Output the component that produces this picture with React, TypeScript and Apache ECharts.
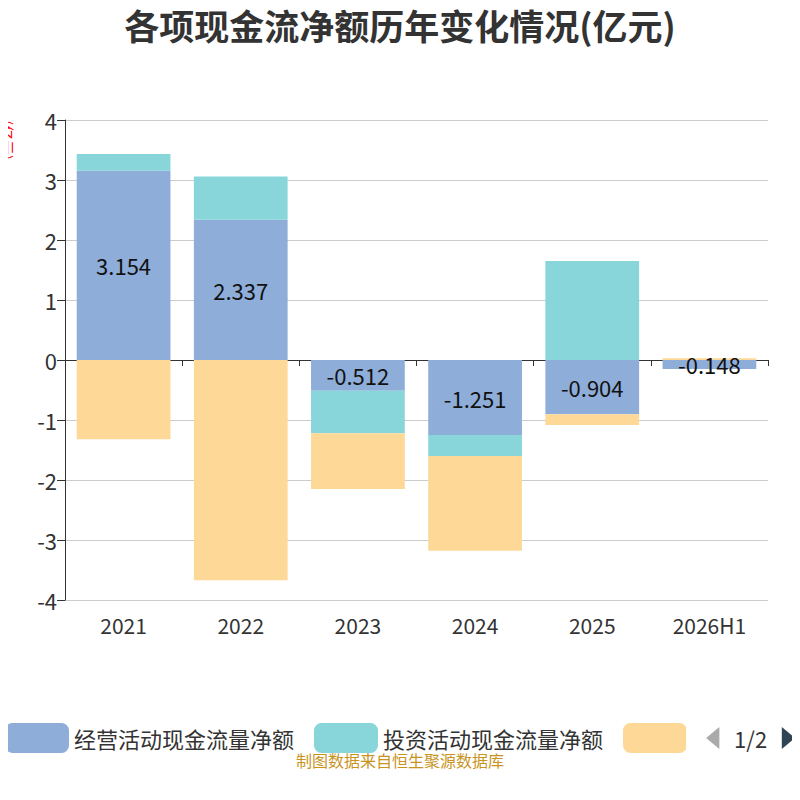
import { useEffect, useRef } from 'react';
import * as echarts from 'echarts';

const years = ['2021', '2022', '2023', '2024', '2025', '2026H1'];
const operating = [3.154, 2.337, -0.512, -1.251, -0.904, -0.148];
const investing = [0.28, 0.72, -0.71, -0.35, 1.65, 0.0];
const financing = [-1.32, -3.67, -0.93, -1.58, -0.18, 0.03];
const seriesNames = ['经营活动现金流量净额', '投资活动现金流量净额', '筹资活动现金流量净额'];

export default function App() {
  const chartRef = useRef<HTMLDivElement>(null);

  useEffect(() => {
    if (!chartRef.current) return;
    const chart = echarts.init(chartRef.current, undefined, { renderer: 'svg' });
    const font = '"Noto Sans CJK SC", "Noto Sans", sans-serif';
    chart.setOption({
      animation: false,
      textStyle: { fontFamily: font },
      title: {
        text: '各项现金流净额历年变化情况(亿元)',
        left: 'center',
        top: 2,
        textStyle: { fontSize: 35, fontWeight: 'bold', color: '#333', fontFamily: font },
      },
      legend: {
        type: 'scroll',
        data: seriesNames,
        top: 718,
        left: 0,
        right: 0,
        itemWidth: 64,
        itemHeight: 30,
        itemGap: 20,
        textStyle: { fontSize: 22, color: '#333' },
        pageIconColor: '#2f4554',
        pageIconInactiveColor: '#aaa',
        pageIconSize: 22,
        pageTextStyle: { fontSize: 22, color: '#333' },
      },
      grid: { left: 65, right: 32, top: 120, bottom: 200, outerBoundsMode: 'none' },
      xAxis: [
        {
          type: 'category',
          data: years,
          axisLine: { onZero: true, lineStyle: { color: '#333' } },
          axisTick: { show: true, length: 6 },
          axisLabel: { show: false },
        },
        {
          type: 'category',
          data: years,
          position: 'bottom',
          axisLine: { show: false, onZero: false },
          axisTick: { show: false },
          axisLabel: { fontSize: 21, color: '#333', margin: 14 },
        },
      ],
      yAxis: {
        type: 'value',
        min: -4,
        max: 4,
        interval: 1,
        axisLine: { show: true, lineStyle: { color: '#333' } },
        axisTick: { show: true, length: 8 },
        axisLabel: { fontSize: 22, color: '#333' },
        splitLine: { lineStyle: { color: '#ccc' } },
      },
      graphic: [
        {
          type: 'text',
          x: 0,
          y: 120,
          rotation: -Math.PI / 2,
          style: {
            text: '(亿元)',
            fill: '#f00',
            fontSize: 15,
            fontFamily: font,
            textAlign: 'left',
            textVerticalAlign: 'bottom',
          },
        },
        {
          type: 'text',
          left: 'center',
          top: 752,
          style: { text: '制图数据来自恒生聚源数据库', fill: '#c8941e', fontSize: 16, fontFamily: font },
        },
      ],
      series: [
        {
          name: seriesNames[0],
          type: 'bar',
          stack: 'cf',
          barWidth: '80%',
          data: operating,
          itemStyle: { color: '#8eadd9' },
          label: { show: true, position: 'inside', fontSize: 22, color: '#111' },
        },
        {
          name: seriesNames[1],
          type: 'bar',
          stack: 'cf',
          data: investing,
          itemStyle: { color: '#88d6d9' },
        },
        {
          name: seriesNames[2],
          type: 'bar',
          stack: 'cf',
          data: financing,
          itemStyle: { color: '#fed897' },
        },
      ],
    });
    return () => chart.dispose();
  }, []);

  return <div ref={chartRef} style={{ width: 800, height: 800, marginLeft: -8, marginTop: -8 }} />;
}
